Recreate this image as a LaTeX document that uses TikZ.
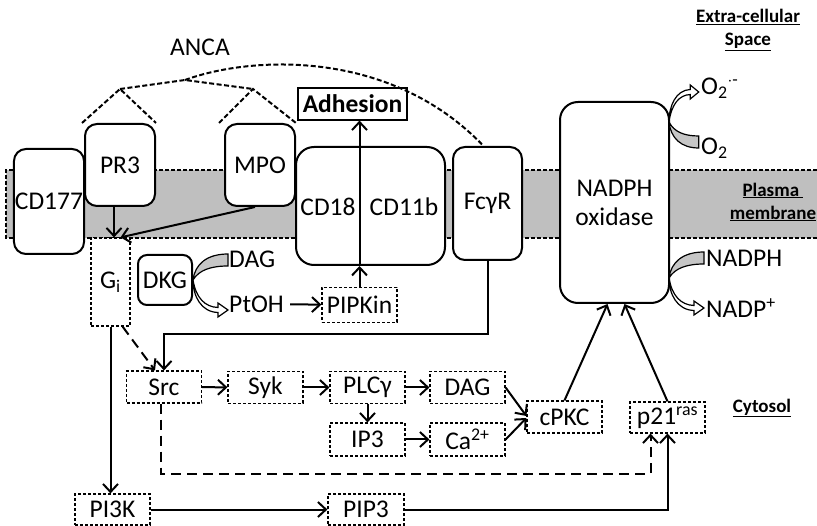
\documentclass[tikz,border=0pt]{standalone}
\usepackage{fontspec}
\setmainfont{Carlito}
\usetikzlibrary{arrows.meta}

\tikzset{
  redox/.pic={
    \filldraw[line width=1.2pt,fill=gray!45] (0,0) .. controls (2,-16) and (14,-26) .. (35,-26) -- (35,-14) .. controls (18,-14) and (6,-10) .. (0,0) -- cycle;
    \filldraw[line width=1.2pt,fill=white] (0,0) .. controls (3,18) and (12,27) .. (25,27.5) -- (25,23) -- (35,30) -- (25,37) -- (25,32.5) .. controls (8,32) and (0,16) .. (0,0) -- cycle;
  }
}

\begin{document}
\begin{tikzpicture}[x=1pt,y=-1pt,
  font=\fontsize{25.5}{29}\selectfont,
  box/.style={draw,line width=2pt,rounded corners=12pt,fill=white,inner sep=1pt},
  dbox/.style={draw,line width=1.2pt,dash pattern=on 3pt off 2pt,fill=white,inner sep=1pt,minimum width=75pt,minimum height=32pt},
  arr/.style={line width=2pt,-{Straight Barb[length=8pt,width=15pt]}},
  darr/.style={arr,dash pattern=on 10pt off 6pt},
  ab/.style={line width=2pt,dash pattern=on 5pt off 2.5pt},
  lbl/.style={font=\fontsize{19}{23}\selectfont\bfseries,align=center}]
\useasboundingbox (0,0) rectangle (817,526);

% membrane
\fill[gray!50] (6,170) rectangle (817,238);
\draw[line width=1.2pt,dash pattern=on 4pt off 2pt] (817,170) -- (6,170) -- (6,238) -- (817,238);

% receptors
\node[box,minimum width=70pt,minimum height=105pt] (cd177) at (49,201.5) {CD177};
\node[box,minimum width=70pt,minimum height=82pt] (pr3) at (120,165) {PR3};
\node[box,minimum width=70pt,minimum height=82pt] (mpo) at (260,165) {MPO};
\node[box,minimum width=149pt,minimum height=118pt,rounded corners=18pt] (itg) at (370.5,206) {};
\node (cd18) at (328,207) {CD18};
\node (cd11b) at (404,207) {CD11b};
\node[box,minimum width=69pt,minimum height=113pt] (fcgr) at (487.5,203.5) {FcγR};
\node[box,minimum width=109pt,minimum height=201pt,rounded corners=18pt,align=center] (nox) at (614.5,202.5) {NADPH\\oxidase};
\node[draw,line width=1.2pt,minimum width=109pt,minimum height=32pt,inner sep=1pt,font=\fontsize{25.5}{29}\selectfont\bfseries] (adh) at (352.5,104) {Adhesion};

% ANCA
\node (anca) at (200,47) {ANCA};
\coordinate (a1) at (120,89);
\coordinate (a2) at (253,89);
\coordinate (aj) at (185,80);
\draw[ab] ([xshift=-2pt]pr3.north west) -- (a1) -- (pr3.north east);
\draw[ab] ([xshift=-5pt]mpo.north west) -- (a2) -- (mpo.north east);
\draw[ab] (a1) -- (aj) -- (a2);
\draw[ab] (aj) .. controls (250,56) and (390,48) .. ([xshift=-4pt]fcgr.north);

% below the membrane
\node[dbox,minimum width=39pt,minimum height=88pt] (gi) at (110.5,282) {G\textsubscript{i}};
\node[box,minimum width=54pt,minimum height=50pt,rounded corners=9pt] (dkg) at (165,280) {DKG};
\pic at (dkg.east) {redox};
\node[anchor=west,inner sep=0pt] (dagin) at (229,259) {DAG};
\node[anchor=west,inner sep=0pt] (ptoh) at (229,304) {PtOH};
\node[dbox,minimum height=35pt] (pipkin) at (359.5,305) {PIPKin};

\node[dbox] (src) at (164,387) {Src};
\node[dbox] (syk) at (265.5,387.5) {Syk};
\node[dbox] (plcg) at (367.5,387.5) {PLCγ};
\node[dbox] (dag) at (467.5,387.5) {DAG};
\node[dbox,minimum height=33pt] (ip3) at (367.5,439.5) {IP3};
\node[dbox,minimum height=33pt] (ca) at (467.5,439.5) {Ca\textsuperscript{2+}};
\node[dbox] (cpkc) at (564.5,417) {cPKC};
\node[dbox,minimum height=31pt] (p21) at (667.5,417.5) {p21\textsuperscript{ras}};
\node[dbox,minimum height=31pt] (pi3k) at (112.5,509.5) {PI3K};
\node[dbox,minimum height=31pt,minimum width=76pt] (pip3) at (366,509.5) {PIP3};

% oxidase substrates
\pic[yscale=-1,xscale=0.85] at (669,122) {redox};
\pic at (669,278) {redox};
\node[anchor=west,inner sep=0pt] (o2r) at (701,88) {O\textsubscript{2}\textsuperscript{$\cdot$-}};
\node[anchor=west,inner sep=0pt] (o2) at (701,148) {O\textsubscript{2}};
\node[anchor=west,inner sep=0pt] (nadph) at (706,258) {NADPH};
\node[anchor=west,inner sep=0pt] (nadp) at (706,308) {NADP\textsuperscript{+}};

% compartments
\node[lbl] (ecs) at (748,30) {\underline{Extra-cellular}\\\underline{Space}};
\node[lbl] (pm) at (773,202) {\underline{Plasma\ }\\\underline{membrane}};
\node[lbl] (cyt) at (762,408) {\underline{Cytosol}};

% signalling
\draw[arr] ([xshift=-6pt]pr3.south) -- ([xshift=-6pt]pr3.south |- gi.north);
\draw[arr] ([xshift=-5pt]mpo.south) -- ([xshift=10pt]gi.north);
\draw[arr,shorten <=6pt] (ptoh) -- (pipkin);
\draw[arr] (pipkin.north) -- (pipkin.north |- itg.south);
\draw[arr] (pipkin.north |- itg.south) -- (pipkin.north |- adh.south);
\draw[arr] (fcgr.south) -- ++(0,73) -| (src.north);
\draw[darr] ([xshift=-8pt]gi.south east) -- ([xshift=-9pt]src.north);
\draw[arr] (gi.south) -- (gi.south |- pi3k.north);
\draw[arr] (src) -- (syk);
\draw[arr] (syk) -- (plcg);
\draw[arr] (plcg) -- (dag);
\draw[arr] (plcg) -- (ip3);
\draw[arr] (ip3) -- (ca);
\draw[arr] (dag.east) -- ([yshift=1pt]cpkc.west);
\draw[arr] (ca.east) -- ([yshift=-1pt]cpkc.west);
\draw[darr] ([xshift=-3pt]src.south) -- ++(0,70) -| ([xshift=-17pt]p21.south);
\draw[arr] (pi3k) -- (pip3);
\draw[arr] (pip3.east) -| (p21.south);
\draw[arr] (cpkc.north) -- ([xshift=-7pt]nox.south);
\draw[arr] (p21.north) -- ([xshift=10pt]nox.south);
\end{tikzpicture}
\end{document}
